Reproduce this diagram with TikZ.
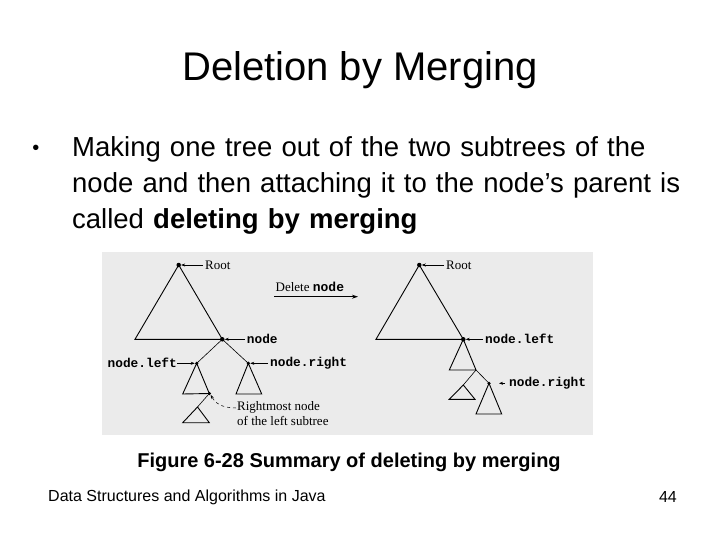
\documentclass[tikz,border=0pt]{standalone}
\usepackage{fontspec}
\setmainfont{Liberation Sans}
\newfontfamily\serifx{Liberation Serif}
\newfontfamily\monob{Liberation Mono Bold}
\usetikzlibrary{arrows.meta}
\begin{document}
\begin{tikzpicture}[x=1pt,y=-1pt,
  ln/.style={line width=0.9pt},
  dot/.style={circle,fill=black,inner sep=0pt,minimum size=4.5pt},
  lab/.style={font=\monob\fontsize{12.8}{14}\selectfont,inner sep=0pt},
  slab/.style={font=\serifx\fontsize{13}{15}\selectfont,inner sep=0pt},
  pa/.style={-{Stealth[length=4pt,width=3pt]},line width=0.5pt}]
\useasboundingbox (0,0) rectangle (720,540);
\fill[white] (0,0) rectangle (720,540);
\node[font=\fontsize{40}{44}\selectfont] (title) at (360,70) {Deletion by Merging};
\node[font=\fontsize{27.5}{36}\selectfont,anchor=base west,text width=640pt,align=left,inner sep=0pt] (txt) at (72,157)
 {Making one tree out of the two subtrees of the\\node and then attaching it to the node’s parent is\\called \textbf{deleting by merging}};
\node[font=\fontsize{20}{24}\selectfont,anchor=base] (bul) at (36,155) {•};
\fill[black!8] (102,252) rectangle (593,435);
% left tree
\node[dot] (r1) at (178.7,265) {};
\node[dot] (n) at (222.3,339.3) {};
\coordinate (b1) at (135,339.3);
\draw[ln] (r1.center) -- (b1) -- (n.center) -- cycle;
\node[dot,minimum size=3.5pt] (nl) at (196.7,363.3) {};
\node[dot,minimum size=3.5pt] (nr) at (248.3,363.3) {};
\draw[line width=0.6pt] (n.center) -- (nl.center) (n.center) -- (nr.center);
\node[dot,minimum size=3.5pt] (rm) at (209.3,393.5) {};
\coordinate (l1) at (182.7,394);
\draw[ln] (nl.center) -- (l1) -- (rm.center) -- cycle;
\coordinate (r1a) at (236,394); \coordinate (r1b) at (261.7,394);
\draw[ln] (nr.center) -- (r1a) -- (r1b) -- cycle;
\coordinate (s1) at (197.5,407); \coordinate (s1a) at (182.7,422.7); \coordinate (s1b) at (209.3,422.7);
\draw[line width=0.6pt] (rm.center) -- (s1);
\draw[ln] (s1) -- (s1a) -- (s1b) -- cycle;
\node[slab,anchor=west] (rootl) at (205,265) {Root};
\draw[pa] (rootl.west) ++(-2,0) -- (r1.east);
\node[lab,anchor=west] (nlab) at (246.7,339.3) {node};
\draw[pa] (nlab.west) ++(-2,0) -- (n.east);
\node[lab,anchor=east] (nllab) at (177,363.3) {node.left};
\draw[pa] (nllab.east) -- (nl.west);
\node[lab,anchor=west] (nrlab) at (270,363.3) {node.right};
\draw[pa] (nrlab.west) ++(-2,0) -- (nr.east);
\node[slab,anchor=north west,align=left,font=\serifx\fontsize{13}{15.5}\selectfont] (rmlab) at (237,401) {Rightmost node\\of the left subtree};
\draw[pa,dashed] (236,408) .. controls (222,408) and (215,403) .. (rm.south east);
% arrow
\node[font=\fontsize{13}{15}\selectfont,inner sep=0pt,anchor=west] (del) at (275.5,287) {\serifx Delete \monob node};
\coordinate (da) at (274,296.7); \coordinate (db) at (358,296.7);
\draw[-{Stealth[length=6pt,width=4pt]},line width=1.4pt] (da) -- (db);
% right tree
\node[dot] (r2) at (419.3,265) {};
\node[dot] (m) at (463.3,339.3) {};
\coordinate (b2) at (376,339.3);
\draw[ln] (r2.center) -- (b2) -- (m.center) -- cycle;
\coordinate (t1) at (449.3,370); \coordinate (t2) at (476,370);
\node[dot,minimum size=3.5pt] (mr) at (489,383.3) {};
\draw[ln] (m.center) -- (t1) -- (t2) -- cycle;
\draw[line width=0.6pt] (t2) -- (mr.center);
\coordinate (u0) at (463.3,385); \coordinate (u1) at (449.3,399.3); \coordinate (u2) at (475,399.3);
\draw[line width=0.6pt] (t2) -- (u0);
\draw[ln] (u0) -- (u1) -- (u2) -- cycle;
\coordinate (v1) at (476,414); \coordinate (v2) at (501.7,414);
\draw[ln] (mr.center) -- (v1) -- (v2) -- cycle;
\node[slab,anchor=west] (rootr) at (446,265) {Root};
\draw[pa] (rootr.west) ++(-2,0) -- (r2.east);
\node[lab,anchor=west] (mlab) at (485,339.3) {node.left};
\draw[pa] (mlab.west) ++(-2,0) -- (m.east);
\node[lab,anchor=west] (mrlab) at (509,383.3) {node.right};
\draw[pa] (mrlab.west) ++(-4,0) -- ++(-6,0);
\node[font=\bfseries\fontsize{20}{24}\selectfont] (cap) at (349,462) {Figure 6-28 Summary of deleting by merging};
\node[font=\fontsize{16}{18}\selectfont,anchor=west,inner sep=0pt] (foot) at (48,497) {Data Structures and Algorithms in Java};
\node[font=\fontsize{16}{18}\selectfont,anchor=east,inner sep=0pt] (pg) at (677,497) {44};
\end{tikzpicture}
\end{document}
